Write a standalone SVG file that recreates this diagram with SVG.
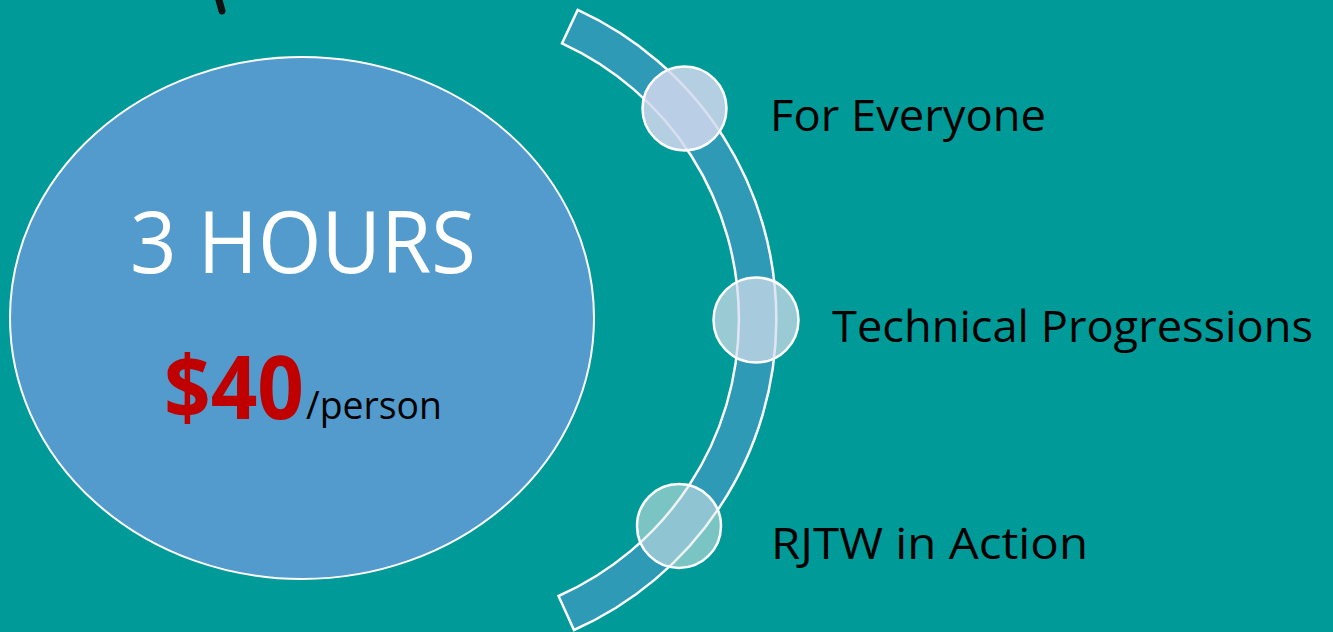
<svg xmlns="http://www.w3.org/2000/svg" width="1333" height="632" viewBox="0 0 1333 632">
  <style>
    .lbl { font-family: "Open Sans", "Liberation Sans", sans-serif; font-size: 44px; fill: #000000; }
    .dot { stroke: #FFFFFF; stroke-width: 2.5; }
  </style>
  <rect x="0" y="0" width="1333" height="632" fill="#009B98"/>
  <path d="M219 0 L222 11" stroke="#111111" stroke-width="7" stroke-linecap="round" fill="none"/>

  <g id="main-circle">
    <ellipse cx="302" cy="318" rx="292" ry="261" fill="#529BCC" stroke="#FFFFFF" stroke-width="2"/>
    <text x="303" y="273" text-anchor="middle" font-family="'Open Sans', 'Liberation Sans', sans-serif" font-size="86" fill="#FFFFFF" textLength="346" lengthAdjust="spacingAndGlyphs">3 HOURS</text>
    <text x="164" y="419" font-family="'Open Sans', 'Liberation Sans', sans-serif" font-size="88" font-weight="bold" fill="#C00000" textLength="140" lengthAdjust="spacingAndGlyphs">$40</text>
    <text x="306" y="419" font-family="'Open Sans', 'Liberation Sans', sans-serif" font-size="38" fill="#000000" textLength="136" lengthAdjust="spacingAndGlyphs">/person</text>
  </g>

  <g id="connectors">
    <path d="M577.7 9.9 A340 340 0 0 1 574.0 630.0 L558.5 596.0 A303 303 0 0 0 562.0 43.4 Z" fill="#2F9AB5" stroke="#FFFFFF" stroke-width="2.5"/>
  </g>

  <g id="item-1">
    <circle class="dot" cx="684.5" cy="108.5" r="42" fill="#D2D8ED" fill-opacity="0.85"/>
    <text class="lbl" x="770" y="131" textLength="276" lengthAdjust="spacingAndGlyphs">For Everyone</text>
  </g>
  <g id="item-2">
    <circle class="dot" cx="756" cy="320" r="42.5" fill="#D6DEED" fill-opacity="0.72"/>
    <text class="lbl" x="832" y="342" textLength="481" lengthAdjust="spacingAndGlyphs">Technical Progressions</text>
  </g>
  <g id="item-3">
    <circle class="dot" cx="679" cy="526" r="42" fill="#DEE7EA" fill-opacity="0.55"/>
    <text class="lbl" x="771" y="559" textLength="317" lengthAdjust="spacingAndGlyphs">RJTW in Action</text>
  </g>
</svg>
